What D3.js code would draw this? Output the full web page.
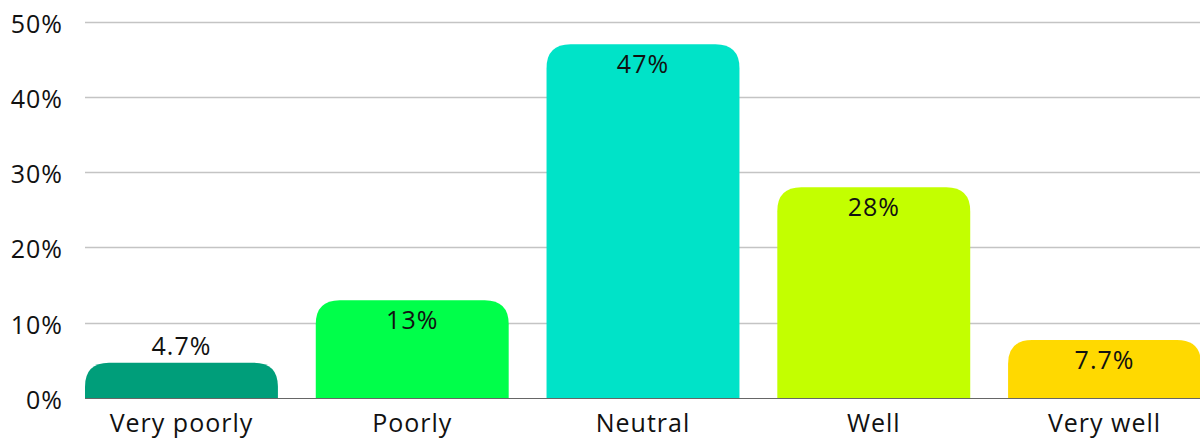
<!DOCTYPE html>
<html>
<head>
<meta charset="utf-8">
<script src="https://cdn.jsdelivr.net/npm/d3@7"></script>
<style>
html,body{margin:0;padding:0;background:#fff;overflow:hidden;}
svg{display:block;}
text{font-family:"Open Sans",sans-serif;fill:#111;letter-spacing:1px;}
</style>
</head>
<body>
<svg id="chart" width="1200" height="442"></svg>
<script>
const categories = ["Very poorly", "Poorly", "Neutral", "Well", "Very well"];
const values = [4.7, 13, 47, 28, 7.7];
const colors = ["#009E7A", "#00FF4A", "#00E3C8", "#C3FF00", "#FFD900"];
const yTicks = [0, 10, 20, 30, 40, 50];

(function () {
const svg = d3.select("#chart");
const mLeft = 85, mRight = 1201, mTop = 21.7, mBottom = 398;
const fs = 25;

const x = d3.scaleBand().domain(categories).range([mLeft, mRight]).paddingInner(0.164).paddingOuter(0);
const y = d3.scaleLinear().domain([0, 50]).range([mBottom, mTop]);

// gridlines
svg.append("g").selectAll("line").data(yTicks.filter(d => d > 0)).join("line")
  .attr("x1", mLeft).attr("x2", 1200)
  .attr("y1", d => Math.round(y(d)) + 0.5).attr("y2", d => Math.round(y(d)) + 0.5)
  .attr("stroke", "#c4c4c4").attr("stroke-width", 1.3);

// y axis labels
svg.append("g").selectAll("text").data(yTicks).join("text")
  .attr("x", 63).attr("y", d => y(d) + 1)
  .attr("text-anchor", "end").attr("dominant-baseline", "central")
  .attr("font-size", fs)
  .text(d => d + "%");

// baseline
svg.append("line").attr("x1", mLeft).attr("x2", 1200)
  .attr("y1", mBottom + 0.5).attr("y2", mBottom + 0.5)
  .attr("stroke", "#666").attr("stroke-width", 1.2);

function barPath(x0, w, yT, yB, r) {
  r = Math.min(r, (yB - yT), w / 2);
  return `M${x0},${yB}V${yT + r}Q${x0},${yT} ${x0 + r},${yT}H${x0 + w - r}Q${x0 + w},${yT} ${x0 + w},${yT + r}V${yB}Z`;
}
const data = categories.map((c, i) => ({c, v: values[i], col: colors[i]}));
svg.append("g").selectAll("path").data(data).join("path")
  .attr("d", d => barPath(x(d.c), x.bandwidth(), y(d.v), mBottom, 24))
  .attr("fill", d => d.col);

// value labels
svg.append("g").selectAll("text").data(data).join("text")
  .attr("x", d => x(d.c) + x.bandwidth() / 2)
  .attr("y", d => (mBottom - y(d.v)) > 45 ? y(d.v) + 29 : y(d.v) - 8)
  .attr("text-anchor", "middle")
  .attr("font-size", fs)
  .text(d => d.v + "%");

// category labels
svg.append("g").selectAll("text").data(categories).join("text")
  .attr("x", d => x(d) + x.bandwidth() / 2)
  .attr("y", 432)
  .attr("text-anchor", "middle")
  .attr("font-size", fs)
  .text(d => d);
})();
</script>
</body>
</html>
